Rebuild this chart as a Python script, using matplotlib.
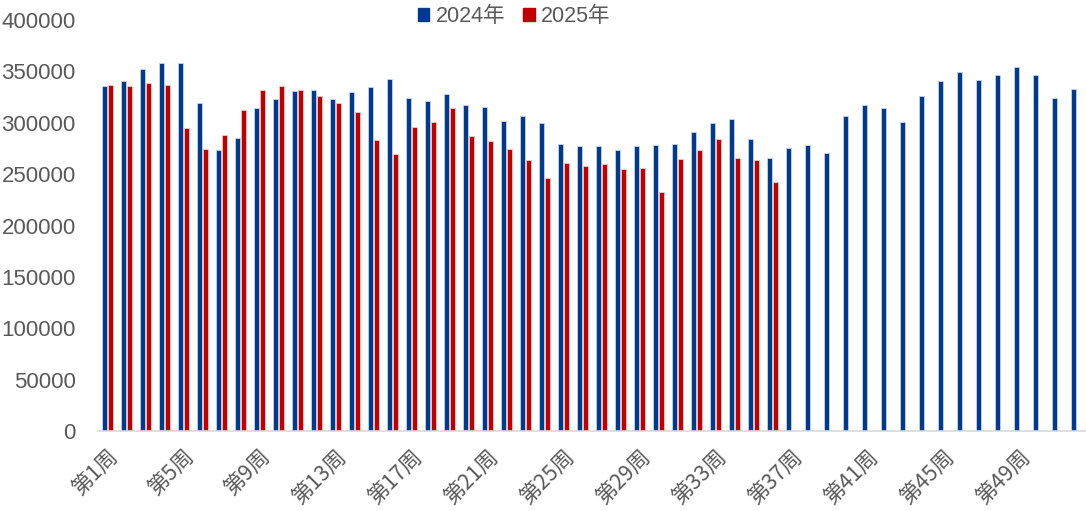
import matplotlib
matplotlib.use("Agg")
import matplotlib.pyplot as plt
from matplotlib.patches import Patch
import numpy as np

plt.rcParams['font.family'] = ['Liberation Sans', 'Noto Sans CJK SC', 'DejaVu Sans']

# ─── data ───
weeks = [f"第{i}周" for i in range(1, 53)]
y2024 = [335500, 340600, 352000, 357800, 357800, 319500, 273500, 284900, 314300, 323100,
         330900, 331900, 323100, 329600, 334500, 342900, 324400, 320800, 328000, 317000,
         315600, 302000, 306900, 299500, 279300, 277000, 277000, 273500, 277000, 278200,
         279300, 290700, 299500, 303300, 284500, 265700, 275700, 278000, 270600, 306900,
         317000, 314300, 300700, 325700, 340600, 349400, 341900, 346800, 354300, 346800,
         324400, 333200]
y2025 = [336700, 335500, 338300, 336700, 294600, 274500, 288100, 312100, 331900, 335800,
         331900, 325700, 319500, 310800, 283200, 269300, 295600, 300700, 314300, 287100,
         282200, 274500, 263400, 245900, 260800, 258200, 259500, 254600, 256000, 232300,
         264400, 273500, 284500, 265700, 263400, 242000]

blue = "#003A8C"
red = "#C00000"

fig = plt.figure(figsize=(10.86, 5.11), dpi=100)
ax = fig.add_axes([98 / 1086, 1 - 431 / 511, 1 - 98 / 1086, (431 - 20) / 511])

x24 = np.arange(len(y2024))
x25 = np.arange(len(y2025))
w = 0.27
ax.bar(x24 - w / 2 - 0.02, y2024, width=w, color=blue, edgecolor="#C9D3E6", linewidth=0.6)
ax.bar(x25 + w / 2 + 0.02, y2025, width=w, color=red, edgecolor="#F0C8C8", linewidth=0.6)

ax.set_xlim(-0.5, len(y2024) - 0.5)
ax.set_ylim(0, 400000)
ax.set_yticks(np.arange(0, 400001, 50000))
ax.set_yticklabels([str(v) for v in range(0, 400001, 50000)], color="#595959", fontsize=16)

tick_pos = list(range(0, 52, 4))
ax.set_xticks(tick_pos)
ax.set_xticklabels([weeks[i] for i in tick_pos], rotation=45, ha="right",
                   rotation_mode="anchor", color="#595959", fontsize=15.5,
                   family=['Noto Sans CJK SC', 'DejaVu Sans'])
ax.tick_params(axis="y", length=0, pad=16)
ax.tick_params(axis="x", length=0, pad=10)
for lbl in ax.get_xticklabels():
    lbl.set_x(lbl.get_position()[0])

for s in ["top", "right", "left"]:
    ax.spines[s].set_visible(False)
ax.spines["bottom"].set_color("#D9D9D9")
ax.spines["bottom"].set_linewidth(1.2)

handles = [Patch(color=blue, label="2024年"), Patch(color=red, label="2025年")]
fig.legend(handles=handles, loc="center", bbox_to_anchor=(514 / 1086, 1 - 17 / 511),
           ncol=2, frameon=False, handlelength=0.55, handleheight=0.55, handletextpad=0.3,
           columnspacing=0.8, prop={"family": ['Liberation Sans', 'Noto Sans CJK SC'], "size": 15.5},
           labelcolor="#595959")

fig.savefig("out.png", dpi=100)
